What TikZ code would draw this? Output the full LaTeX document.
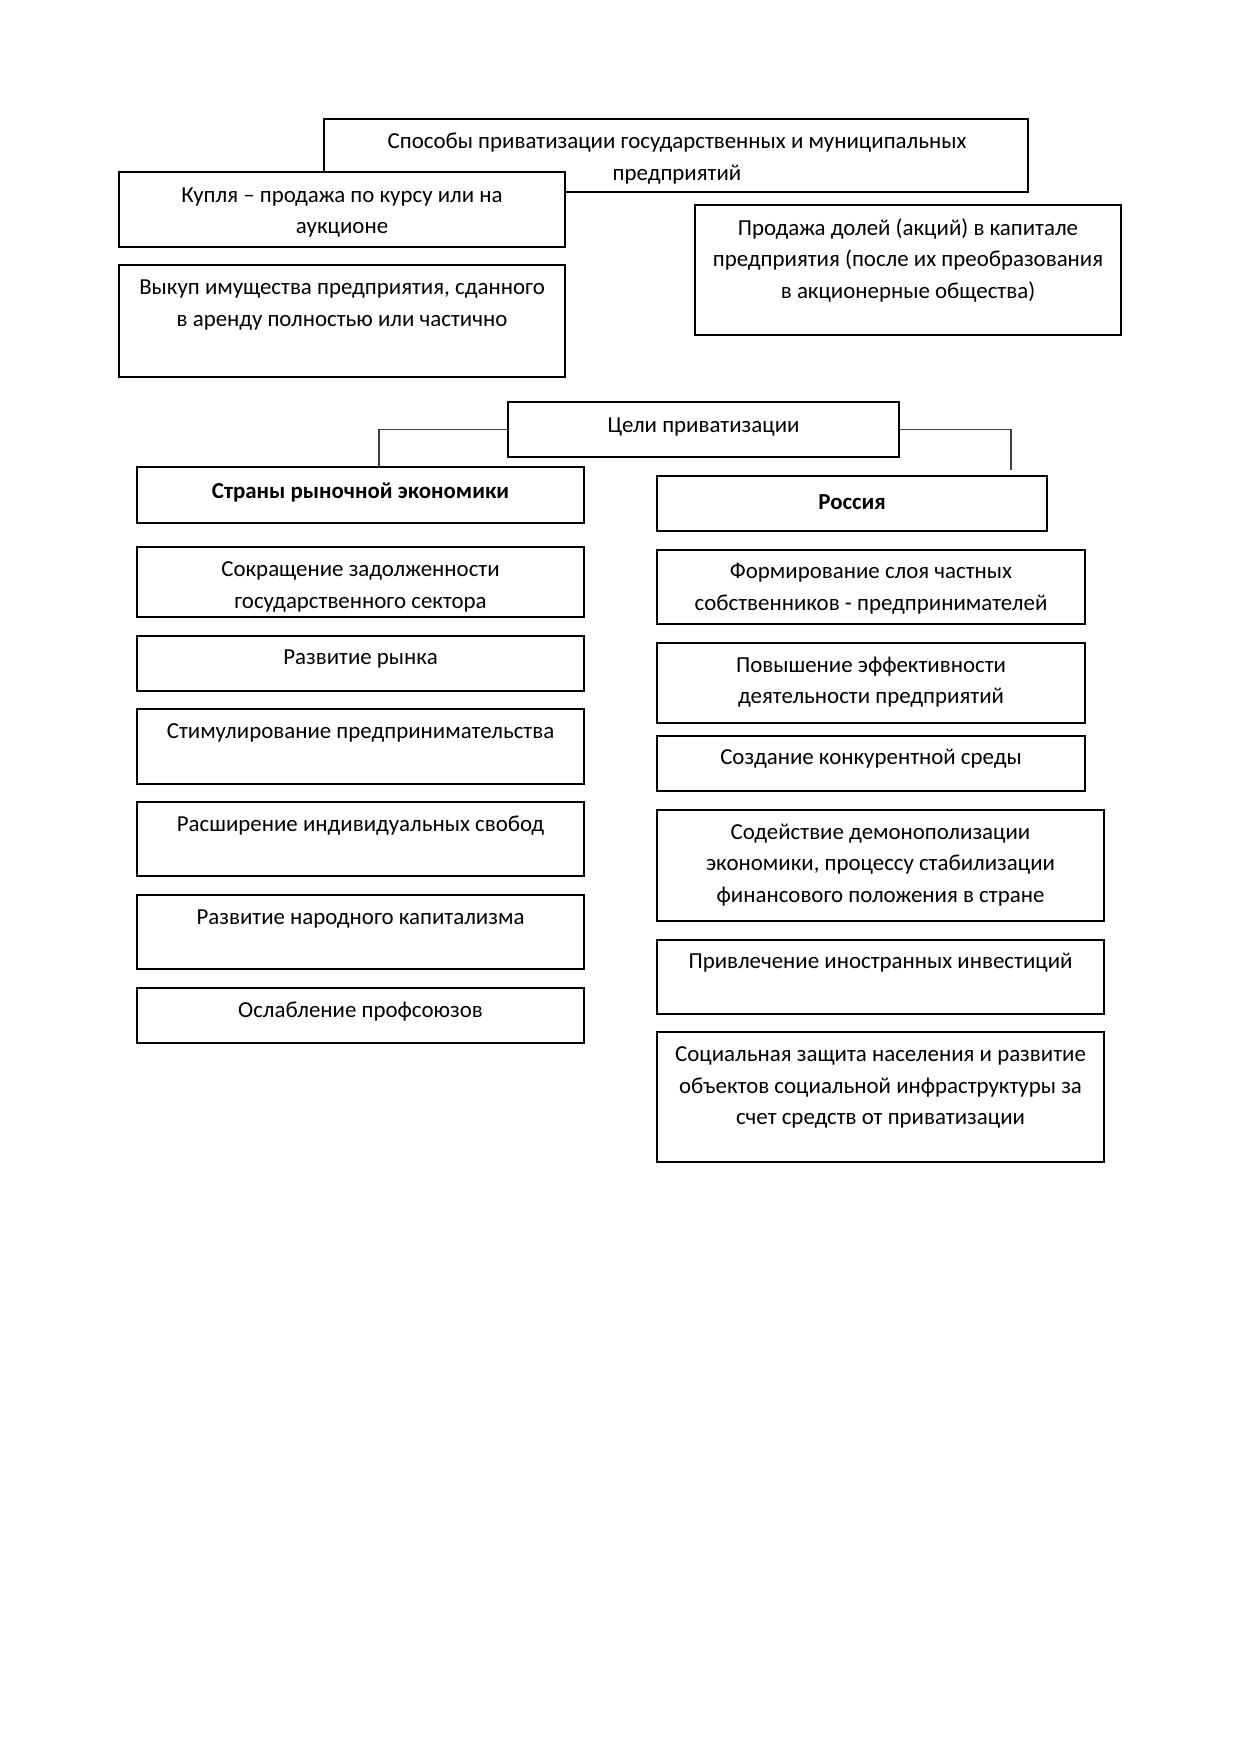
\documentclass[tikz,border=0pt]{standalone}
\usepackage{fontspec}
\setmainfont{Carlito}
\usetikzlibrary{fit}
\tikzset{
  box/.style={draw, line width=0.8pt, fill=white, inner sep=0pt},
  txt/.style={font=\fontsize{11}{15.2}\selectfont, align=center, inner sep=0pt},
  link/.style={draw=black!75, line width=0.6pt}
}
\begin{document}
\begin{tikzpicture}[x=0.4805pt, y=-0.4805pt]
\useasboundingbox[fill=white] (0,0) rectangle (1239,1752);
% top: ways of privatization
\node[box, fit={(324,119)(1028,192)}] (t) {};
\node[txt] (tt) at (677,158.5) {Способы приватизации государственных и муниципальных\\предприятий};
\node[box, fit={(119,172)(565,247)}] (k1) {};
\node[txt] (k1t) at (342,212.5) {Купля – продажа по курсу или на\\аукционе};
\node[box, fit={(119,265)(565,377)}] (k2) {};
\node[txt] (k2t) at (342,305) {Выкуп имущества предприятия, сданного\\в аренду полностью или частично};
\node[box, fit={(695,205)(1121,335)}] (k3) {};
\node[txt] (k3t) at (908,260.5) {Продажа долей (акций) в капитале\\предприятия (после их преобразования\\в акционерные общества)};
% goals
\node[box, fit={(508,402)(899,457)}] (g) {};
\node[txt] (gt) at (703.5,427) {Цели приватизации};
\node[box, fit={(137,467)(584,523)}] (L0) {};
\node[txt, font=\fontsize{11}{15.2}\selectfont\bfseries] (L0t) at (360.5,492) {Страны рыночной экономики};
\node[box, fit={(657,476)(1047,531)}] (R0) {};
\node[txt, font=\fontsize{11}{15.2}\selectfont\bfseries] (R0t) at (852,502) {Россия};
\coordinate (lj) at (379,467);
\coordinate (rj) at (1011,470);
\draw[link] (g.west) -| (lj);
\draw[link] (g.east) -| (rj);
% left column
\node[box, fit={(137,547)(584,617)}] (L1) {};
\node[txt] (L1t) at (360.5,587) {Сокращение задолженности\\государственного сектора};
\node[box, fit={(137,636)(584,691)}] (L2) {};
\node[txt] (L2t) at (360.5,659) {Развитие рынка};
\node[box, fit={(137,709)(584,784)}] (L3) {};
\node[txt] (L3t) at (360.5,733) {Стимулирование предпринимательства};
\node[box, fit={(137,802)(584,876)}] (L4) {};
\node[txt] (L4t) at (360.5,826) {Расширение индивидуальных свобод};
\node[box, fit={(137,895)(584,969)}] (L5) {};
\node[txt] (L5t) at (360.5,919) {Развитие народного капитализма};
\node[box, fit={(137,988)(584,1043)}] (L6) {};
\node[txt] (L6t) at (360.5,1012) {Ослабление профсоюзов};
% right column
\node[box, fit={(657,550)(1085,624)}] (R1) {};
\node[txt] (R1t) at (871,589) {Формирование слоя частных\\собственников - предпринимателей};
\node[box, fit={(657,643)(1085,723)}] (R2) {};
\node[txt] (R2t) at (871,682) {Повышение эффективности\\деятельности предприятий};
\node[box, fit={(657,736)(1085,791)}] (R3) {};
\node[txt] (R3t) at (871,759) {Создание конкурентной среды};
\node[box, fit={(657,810)(1104,921)}] (R4) {};
\node[txt] (R4t) at (880.5,865) {Содействие демонополизации\\экономики, процессу стабилизации\\финансового положения в стране};
\node[box, fit={(657,940)(1104,1014)}] (R5) {};
\node[txt] (R5t) at (880.5,963) {Привлечение иностранных инвестиций};
\node[box, fit={(657,1032)(1104,1162)}] (R6) {};
\node[txt] (R6t) at (880.5,1087.5) {Социальная защита населения и развитие\\объектов социальной инфраструктуры за\\счет средств от приватизации};
\end{tikzpicture}
\end{document}
